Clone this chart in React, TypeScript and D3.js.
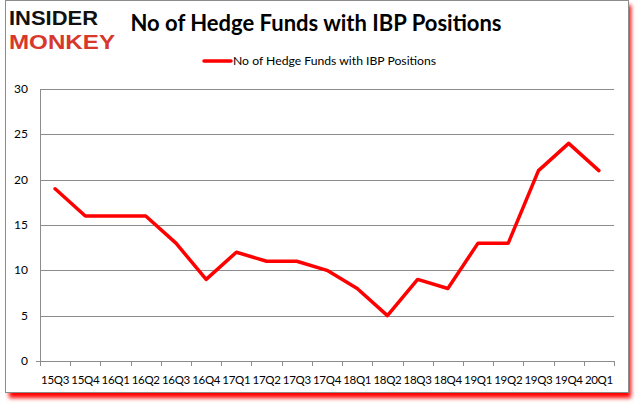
import React, { useEffect, useRef } from "react";
import * as d3 from "d3";

const categories = ["15Q3","15Q4","16Q1","16Q2","16Q3","16Q4","17Q1","17Q2","17Q3","17Q4","18Q1","18Q2","18Q3","18Q4","19Q1","19Q2","19Q3","19Q4","20Q1"];
const values = [19,16,16,16,13,9,12,11,11,10,8,5,9,8,13,13,21,24,21];
const yTicks = [0,5,10,15,20,25,30];
const seriesName = "No of Hedge Funds with IBP Positions";
const titleText = "No of Hedge Funds with IBP Positions";

export default function App() {
  const ref = useRef<SVGSVGElement | null>(null);
  useEffect(() => {
    const svg = d3.select(ref.current);
    svg.selectAll("*").remove();
    const left = 40, right = 614, top = 89, bottom = 361;

    const defs = svg.append("defs");
    const f = defs.append("filter").attr("id", "sh").attr("x", "-5%").attr("y", "-5%").attr("width", "115%").attr("height", "120%");
    f.append("feGaussianBlur").attr("stdDeviation", 2);

    // shadow
    svg.append("rect").attr("x", 9).attr("y", 5).attr("width", 622).attr("height", 393)
      .attr("fill", "#ff0000").attr("filter", "url(#sh)");
    svg.append("rect").attr("x", 5.5).attr("y", 0.5).attr("width", 623).attr("height", 392)
      .attr("fill", "#fff").attr("stroke", "#8c8c8c").attr("stroke-width", 1);

    const x = d3.scaleBand<string>().domain(categories).range([left, right]);
    const y = d3.scaleLinear().domain([0, 30]).range([bottom, top]);

    // gridlines
    svg.append("g").selectAll("line").data(yTicks.filter(t => t > 0)).join("line")
      .attr("x1", left).attr("x2", right)
      .attr("y1", d => Math.round(y(d)) + 0.5).attr("y2", d => Math.round(y(d)) + 0.5)
      .attr("stroke", "#8c8c8c").attr("stroke-width", 1);

    // y axis line
    svg.append("line").attr("x1", left + 0.5).attr("x2", left + 0.5).attr("y1", top).attr("y2", bottom)
      .attr("stroke", "#8c8c8c");
    svg.append("line").attr("x1", left - 4).attr("x2", left).attr("y1", Math.round(y(0)) + 0.5).attr("y2", Math.round(y(0)) + 0.5)
      .attr("stroke", "#8c8c8c");
    // x axis line
    svg.append("line").attr("x1", left).attr("x2", right + 0.5).attr("y1", Math.round(y(0)) + 0.5).attr("y2", Math.round(y(0)) + 0.5)
      .attr("stroke", "#8c8c8c");
    const tickXs = categories.map(c => x(c) as number).concat([right]);
    svg.append("g").selectAll("line").data(tickXs).join("line")
      .attr("x1", d => Math.round(d) + 0.5).attr("x2", d => Math.round(d) + 0.5)
      .attr("y1", Math.round(y(0))).attr("y2", Math.round(y(0)) + 5)
      .attr("stroke", "#8c8c8c");

    // y labels
    svg.append("g").selectAll("text").data(yTicks).join("text")
      .attr("x", 28).attr("y", d => y(d) + 4)
      .attr("text-anchor", "end").attr("font-family", "Lato, 'Open Sans', sans-serif").attr("font-size", 12)
      .attr("fill", "#000").text(d => d);

    // x labels
    svg.append("g").selectAll("text").data(categories).join("text")
      .attr("x", d => (x(d) as number) + x.bandwidth() / 2).attr("y", 384)
      .attr("text-anchor", "middle").attr("font-family", "Lato, 'Open Sans', sans-serif").attr("font-size", 11.5)
      .attr("letter-spacing", -0.3)
      .attr("fill", "#000").text(d => d);

    // line
    const line = d3.line<number>()
      .x((_, i) => (x(categories[i]) as number) + x.bandwidth() / 2)
      .y(d => y(d));
    svg.append("path").datum(values).attr("d", line)
      .attr("fill", "none").attr("stroke", "#ff0000").attr("stroke-width", 3.5)
      .attr("stroke-linejoin", "round").attr("stroke-linecap", "round");

    // title
    svg.append("text").attr("x", 316).attr("y", 31).attr("text-anchor", "middle")
      .attr("font-family", "Lato, 'Open Sans', sans-serif").attr("font-weight", 700).attr("font-size", 22)
      .attr("fill", "#000").text(titleText);

    // legend
    svg.append("line").attr("x1", 204).attr("x2", 231).attr("y1", 61).attr("y2", 61)
      .attr("stroke", "#ff0000").attr("stroke-width", 3.5).attr("stroke-linecap", "round");
    svg.append("text").attr("x", 233).attr("y", 65)
      .attr("font-family", "Lato, 'Open Sans', sans-serif").attr("font-size", 12.2)
      .attr("fill", "#000").text(seriesName);

    // logo
    svg.append("text").attr("x", 9).attr("y", 25)
      .attr("font-family", "'Liberation Sans', sans-serif").attr("font-weight", 700).attr("font-size", 21)
      .attr("textLength", 89).attr("lengthAdjust", "spacingAndGlyphs")
      .attr("fill", "#111").text("INSIDER");
    svg.append("text").attr("x", 9).attr("y", 49)
      .attr("font-family", "'Liberation Sans', sans-serif").attr("font-weight", 700).attr("font-size", 21)
      .attr("textLength", 106).attr("lengthAdjust", "spacingAndGlyphs")
      .attr("fill", "#d8382c").text("MONKEY");
  }, []);
  return (
    <div style={{ position: "absolute", left: 0, top: 0 }}>
      <svg ref={ref} width={635} height={405} style={{ display: "block", background: "#fff" }} />
    </div>
  );
}
